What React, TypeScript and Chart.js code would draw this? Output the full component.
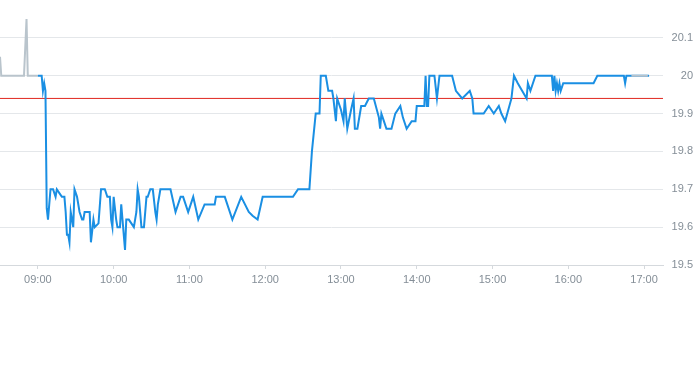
import { useEffect, useRef } from "react";
import { Chart, registerables } from "chart.js";

Chart.register(...registerables);

// Pre-market (grey)
const preTimes = ["08:30", "08:31", "08:49", "08:51", "08:52", "09:00"];
const preValues = [20.05, 20.0, 20.0, 20.15, 20.0, 20.0];

// Regular session (blue)
const mainTimes = [
  "09:00", "09:03", "09:04", "09:05", "09:06", "09:07", "09:08", "09:10", "09:12", "09:14",
  "09:15", "09:17", "09:19", "09:21", "09:22", "09:23", "09:24", "09:25", "09:26", "09:28",
  "09:29", "09:31", "09:33", "09:35", "09:36", "09:37", "09:41", "09:42", "09:44", "09:45",
  "09:48", "09:50", "09:53", "09:55", "09:57", "09:58", "09:59", "10:00", "10:02", "10:03",
  "10:05", "10:06", "10:07", "10:09", "10:10", "10:12", "10:16", "10:18", "10:19", "10:20",
  "10:22", "10:24", "10:26", "10:27", "10:29", "10:31", "10:33", "10:34", "10:35", "10:37",
  "10:45", "10:49", "10:53", "10:55", "10:59", "11:03", "11:07", "11:12", "11:20", "11:21",
  "11:28", "11:34", "11:41", "11:47", "11:50", "11:54", "11:58", "12:22", "12:26", "12:35",
  "12:37", "12:40", "12:43", "12:44", "12:48", "12:50", "12:53", "12:54", "12:56", "12:57",
  "13:00", "13:02", "13:03", "13:05", "13:08", "13:10", "13:11", "13:13", "13:16", "13:19",
  "13:22", "13:26", "13:30", "13:31", "13:32", "13:34", "13:36", "13:40", "13:43", "13:47",
  "13:49", "13:52", "13:56", "13:59", "14:00", "14:06", "14:07", "14:08", "14:09", "14:10",
  "14:14", "14:16", "14:18", "14:28", "14:31", "14:36", "14:42", "14:44", "14:45", "14:53",
  "14:57", "15:01", "15:05", "15:07", "15:10", "15:15", "15:17", "15:20", "15:27", "15:28",
  "15:30", "15:32", "15:34", "15:47", "15:48", "15:49", "15:50", "15:51", "15:52", "15:53",
  "15:54", "15:56", "16:20", "16:23", "16:44", "16:45", "16:46", "17:04",
];
const mainValues = [
  20.0, 20.0, 19.96, 19.98, 19.96, 19.65, 19.62, 19.7, 19.7, 19.68,
  19.7, 19.69, 19.68, 19.68, 19.64, 19.58, 19.58, 19.56, 19.64, 19.6,
  19.7, 19.68, 19.64, 19.62, 19.62, 19.64, 19.64, 19.56, 19.62, 19.6,
  19.61, 19.7, 19.7, 19.68, 19.68, 19.62, 19.6, 19.68, 19.62, 19.6,
  19.6, 19.66, 19.62, 19.54, 19.62, 19.62, 19.6, 19.64, 19.7, 19.68,
  19.6, 19.6, 19.68, 19.68, 19.7, 19.7, 19.64, 19.62, 19.66, 19.7,
  19.7, 19.64, 19.68, 19.68, 19.64, 19.68, 19.62, 19.66, 19.66, 19.68,
  19.68, 19.62, 19.68, 19.64, 19.63, 19.62, 19.68, 19.68, 19.7, 19.7,
  19.8, 19.9, 19.9, 20.0, 20.0, 19.96, 19.96, 19.94, 19.88, 19.94,
  19.91, 19.88, 19.94, 19.86, 19.91, 19.94, 19.86, 19.86, 19.92, 19.92,
  19.94, 19.94, 19.89, 19.86, 19.9, 19.88, 19.86, 19.86, 19.9, 19.92,
  19.89, 19.86, 19.88, 19.88, 19.92, 19.92, 20.0, 19.92, 19.92, 20.0,
  20.0, 19.94, 20.0, 20.0, 19.96, 19.94, 19.96, 19.94, 19.9, 19.9,
  19.92, 19.9, 19.92, 19.9, 19.88, 19.94, 20.0, 19.98, 19.94, 19.98,
  19.96, 19.98, 20.0, 20.0, 19.96, 20.0, 19.96, 19.98, 19.96, 19.98,
  19.96, 19.98, 19.98, 20.0, 20.0, 19.98, 20.0, 20.0,
];

// After-hours (grey)
const postTimes = ["16:50", "17:03"];
const postValues = [20.0, 20.0];

// Previous close reference line
const prevClose = 19.94;

const xRange = ["08:30", "17:15"];
const xTickLabels = ["09:00", "10:00", "11:00", "12:00", "13:00", "14:00", "15:00", "16:00", "17:00"];
const yRange = [19.5, 20.2];
const yTickValues = [19.5, 19.6, 19.7, 19.8, 19.9, 20, 20.1];

const toMin = (t: string) => {
  const [h, m] = t.split(":").map(Number);
  return h * 60 + m;
};
const fmt = (v: number) =>
  `${String(Math.floor(v / 60)).padStart(2, "0")}:${String(Math.round(v % 60)).padStart(2, "0")}`;
const pts = (times: string[], vals: number[]) => times.map((t, i) => ({ x: toMin(t), y: vals[i] }));

export default function App() {
  const ref = useRef<HTMLCanvasElement | null>(null);
  useEffect(() => {
    document.body.style.margin = "0";
    if (!ref.current) return;
    const font = { family: '"Liberation Sans", Arial, sans-serif', size: 11 };
    const tickColor = "#848e97";
    const chart = new Chart(ref.current, {
      type: "line",
      data: {
        datasets: [
          {
            data: pts(postTimes, postValues),
            borderColor: "#b9c4cc",
            borderWidth: 2,
            pointRadius: 0,
            order: 0,
          },
          {
            data: pts(mainTimes, mainValues),
            borderColor: "#1a8fe3",
            borderWidth: 2,
            pointRadius: 0,
            order: 1,
          },
          {
            data: pts(preTimes, preValues),
            borderColor: "#b9c4cc",
            borderWidth: 2,
            pointRadius: 0,
            order: 2,
          },
          {
            data: [
              { x: toMin(xRange[0]), y: prevClose },
              { x: toMin(xRange[1]), y: prevClose },
            ],
            borderColor: "#e0261f",
            borderWidth: 1,
            pointRadius: 0,
            order: 3,
          },
        ],
      },
      options: {
        animation: false,
        responsive: false,
        maintainAspectRatio: false,
        layout: { padding: 0 },
        plugins: { legend: { display: false }, tooltip: { enabled: false } },
        elements: { line: { tension: 0 } },
        scales: {
          x: {
            type: "linear",
            min: toMin(xRange[0]),
            max: toMin(xRange[1]),
            afterBuildTicks: (s: any) => {
              s.ticks = xTickLabels.map((t) => ({ value: toMin(t) }));
            },
            afterFit: (s: any) => {
              s.height = 30;
            },
            grid: { drawOnChartArea: false, drawTicks: true, tickLength: 4, color: "#d5d9dd" },
            border: { color: "#d5d9dd" },
            ticks: {
              color: tickColor,
              font,
              padding: 4,
              maxRotation: 0,
              autoSkip: false,
              callback: (v: any) => fmt(Number(v)),
            },
          },
          y: {
            position: "right",
            min: yRange[0],
            max: yRange[1],
            afterBuildTicks: (s: any) => {
              s.ticks = yTickValues.map((v) => ({ value: v }));
            },
            afterFit: (s: any) => {
              s.width = 30;
              s.paddingTop = 0;
              s.paddingBottom = 0;
            },
            grid: { color: "#e4e7ea", drawTicks: false },
            border: { display: false },
            ticks: {
              color: tickColor,
              font,
              padding: 10,
              crossAlign: "far",
              callback: (v: any) => String(v),
            },
          },
        },
      },
    });
    return () => chart.destroy();
  }, []);
  return (
    <div style={{ width: 693, height: 365 }}>
      <canvas ref={ref} width={693} height={295} style={{ display: "block" }} />
    </div>
  );
}
